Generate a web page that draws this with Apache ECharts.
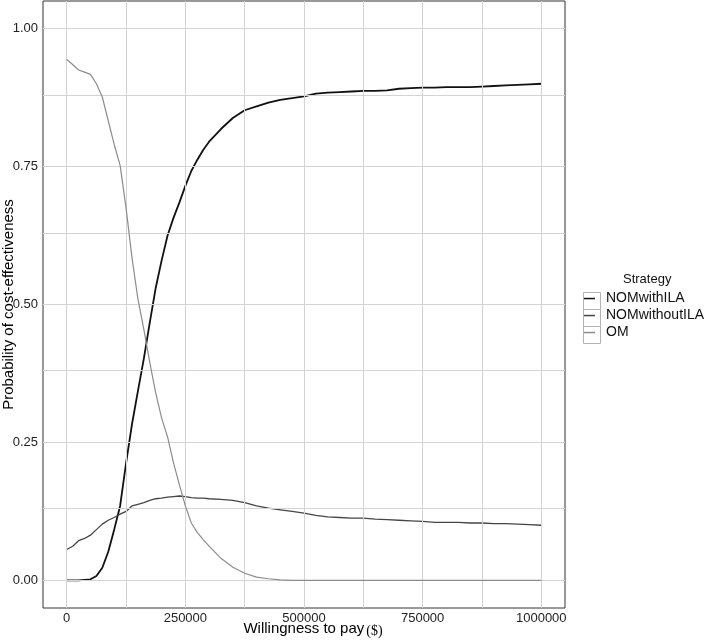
<!DOCTYPE html>
<html>
<head>
<meta charset="utf-8">
<script src="https://cdn.jsdelivr.net/npm/echarts@6/dist/echarts.min.js"></script>
<style>
  html, body { margin: 0; padding: 0; background: #fff; }
  #chart { width: 709px; height: 643px; }
</style>
</head>
<body>
<div id="chart"></div>
<script>
// willingness to pay ($), finer steps where the curves move fast
const wtp = [
  0, 12500, 25000, 37500, 50000, 62500, 75000, 87500, 100000, 112500,
  125000, 137500, 150000, 162500, 175000, 187500, 200000, 212500, 225000, 237500,
  250000, 262500, 275000, 287500, 300000, 325000, 350000, 375000, 400000, 425000,
  450000, 475000, 500000, 525000, 550000, 575000, 600000, 625000, 650000, 675000,
  700000, 725000, 750000, 775000, 800000, 825000, 850000, 875000, 900000, 925000,
  950000, 975000, 1000000
];

const nomWithILA = [
  0, 0, 0, 0.001, 0.002, 0.008, 0.023, 0.052, 0.092, 0.135,
  0.212, 0.283, 0.343, 0.402, 0.467, 0.53, 0.58, 0.625, 0.657, 0.685,
  0.715, 0.742, 0.762, 0.78, 0.795, 0.818, 0.838, 0.852, 0.859, 0.866,
  0.871, 0.874, 0.877, 0.882, 0.884, 0.885, 0.886, 0.887, 0.887, 0.888,
  0.891, 0.892, 0.893, 0.893, 0.894, 0.894, 0.894, 0.895, 0.896, 0.897,
  0.898, 0.899, 0.900
];

const nomWithoutILA = [
  0.056, 0.062, 0.072, 0.076, 0.082, 0.092, 0.102, 0.109, 0.114, 0.120,
  0.125, 0.135, 0.138, 0.141, 0.145, 0.148, 0.149, 0.151, 0.152, 0.153,
  0.152, 0.150, 0.149, 0.149, 0.148, 0.147, 0.145, 0.141, 0.135, 0.131,
  0.128, 0.125, 0.122, 0.118, 0.115, 0.114, 0.113, 0.113, 0.111, 0.110,
  0.109, 0.108, 0.107, 0.105, 0.105, 0.105, 0.104, 0.104, 0.103, 0.103,
  0.102, 0.101, 0.100
];

const om = [
  0.944, 0.935, 0.925, 0.921, 0.917, 0.900, 0.876, 0.833, 0.790, 0.752,
  0.675, 0.585, 0.51, 0.455, 0.395, 0.34, 0.294, 0.26, 0.213, 0.173,
  0.135, 0.104, 0.087, 0.074, 0.062, 0.040, 0.024, 0.013, 0.006, 0.003,
  0.001, 0, 0, 0, 0, 0, 0, 0, 0, 0,
  0, 0, 0, 0, 0, 0, 0, 0, 0, 0,
  0, 0, 0
];

const xTicks = [0, 250000, 500000, 750000, 1000000];
const yTicks = [0, 0.25, 0.5, 0.75, 1];
const xGrid = [0, 125000, 250000, 375000, 500000, 625000, 750000, 875000, 1000000];
const yGrid = [0, 0.125, 0.25, 0.375, 0.5, 0.625, 0.75, 0.875, 1];

const strategies = ['NOMwithILA', 'NOMwithoutILA', 'OM'];
const colors = ['#111111', '#454545', '#8c8c8c'];
const widths = [1.8, 1.3, 1.2];
const values = [nomWithILA, nomWithoutILA, om];

const font = 'Liberation Sans, Arial, Helvetica, sans-serif';
// short horizontal stroke in the middle of a 11x17 key
const keyIcon = 'path://M0,0 M11,17 M0,7.8 L11,7.8 L11,9.3 L0,9.3 Z';

let myChart = echarts.init(document.getElementById('chart'));

let series = [
  {
    name: 'grid',
    type: 'line',
    data: [],
    z: 1,
    silent: true,
    markLine: {
      silent: true,
      symbol: ['none', 'none'],
      label: { show: false },
      animation: false,
      lineStyle: { color: '#d3d3d3', width: 1, type: 'solid' },
      data: xGrid.map(v => ({ xAxis: v })).concat(yGrid.map(v => ({ yAxis: v })))
    }
  }
];
for (let i = 0; i < strategies.length; i++) {
  series.push({
    name: strategies[i],
    type: 'line',
    symbol: 'none',
    z: 3 + i,
    lineStyle: { color: colors[i], width: widths[i] },
    itemStyle: { color: colors[i] },
    data: wtp.map((x, k) => [x, values[i][k]])
  });
}

// legend key boxes
let keys = [];
for (let i = 0; i < strategies.length; i++) {
  keys.push({
    type: 'rect',
    left: 581,
    top: 290 + i * 17,
    shape: { width: 17, height: 17 },
    style: { fill: 'none', stroke: '#b3b3b3', lineWidth: 1 },
    z: 0
  });
}

let option = {
  animation: false,
  backgroundColor: '#fff',
  textStyle: { fontFamily: font },
  title: {
    text: 'Strategy',
    left: 618,
    top: 268,
    textStyle: { fontFamily: font, fontSize: 13, fontWeight: 'normal', color: '#111' }
  },
  legend: {
    data: strategies.map(s => ({ name: s, icon: keyIcon })),
    orient: 'vertical',
    left: 584,
    top: 290,
    itemWidth: 11,
    itemHeight: 17,
    itemGap: 0,
    padding: 0,
    textStyle: { fontFamily: font, fontSize: 14, color: '#111', padding: [0, 0, 0, 6] }
  },
  graphic: keys,
  grid: {
    left: 43,
    top: 1,
    right: 144,
    bottom: 35,
    containLabel: false,
    outerBoundsMode: 'none',
    show: true,
    borderColor: '#333',
    borderWidth: 1,
    backgroundColor: '#fff'
  },
  xAxis: {
    type: 'value',
    min: -50000,
    max: 1050000,
    name: '{a|Willingness to pay}{b|($)}',
    nameLocation: 'middle',
    nameGap: 12,
    nameMoveOverlap: false,
    nameTextStyle: {
      rich: {
        a: { fontFamily: font, fontSize: 15, color: '#000', padding: [0, 0, 0, 18] },
        b: { fontFamily: 'Liberation Serif, Times New Roman, serif', fontSize: 14, color: '#000', padding: [4, 0, 0, 2] }
      }
    },
    axisLine: { show: false },
    axisTick: { show: true, length: 4, customValues: xTicks, lineStyle: { color: '#333' } },
    axisLabel: { customValues: xTicks, fontSize: 13, color: '#222', margin: 4, formatter: v => String(v) },
    splitLine: { show: false }
  },
  yAxis: {
    type: 'value',
    min: -0.05,
    max: 1.05,
    name: 'Probability of cost-effectiveness',
    nameLocation: 'middle',
    nameGap: 27,
    nameMoveOverlap: false,
    nameTextStyle: { fontFamily: font, fontSize: 15, color: '#000' },
    axisLine: { show: false },
    axisTick: { show: true, length: 4, customValues: yTicks, lineStyle: { color: '#333' } },
    axisLabel: { customValues: yTicks, fontSize: 13, color: '#222', margin: 5, formatter: v => v.toFixed(2) },
    splitLine: { show: false }
  },
  series: series
};

myChart.setOption(option);
</script>
</body>
</html>
